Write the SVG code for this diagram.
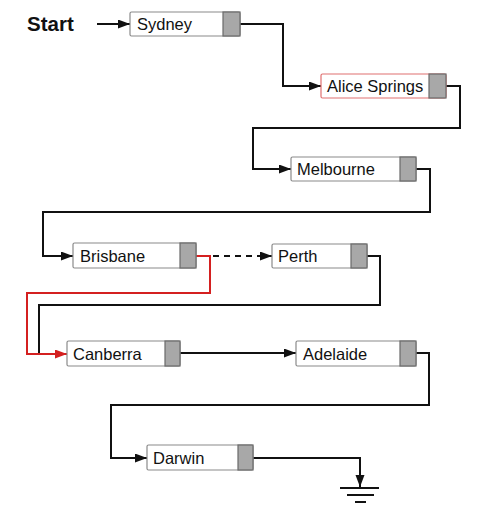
<svg xmlns="http://www.w3.org/2000/svg" width="493" height="526" viewBox="0 0 493 526">
<style>
.box{fill:#fff;stroke:#8a8a8a;stroke-width:1.2}
.red{stroke:#e07070}
.tab{fill:#a8a8a8;stroke:#6a6a6a;stroke-width:1.2}
.lbl{font-family:"Liberation Sans",Arial,sans-serif;font-size:16.5px;fill:#111}
.c{fill:none;stroke:#111;stroke-width:2}
.cr{fill:none;stroke:#d42020;stroke-width:2}
</style>
<defs>
<marker id="ah" markerUnits="userSpaceOnUse" markerWidth="13" markerHeight="10" refX="12" refY="4.5" orient="auto"><path d="M0,0 L12,4.5 L0,9 z" fill="#111"/></marker>
<marker id="ahr" markerUnits="userSpaceOnUse" markerWidth="13" markerHeight="10" refX="12" refY="4.5" orient="auto"><path d="M0,0 L12,4.5 L0,9 z" fill="#d42020"/></marker>
</defs>
<text x="27" y="31" font-family="Liberation Sans,Arial,sans-serif" font-size="20.5" font-weight="bold" fill="#111">Start</text>
<g id="connectors">
<path class="c" d="M97,24 H130" marker-end="url(#ah)"/>
<path class="c" d="M240,24 H283 V86 H321" marker-end="url(#ah)"/>
<path class="c" d="M446,86 H460 V128 H253 V169 H291" marker-end="url(#ah)"/>
<path class="c" d="M416,169 H430 V212 H43 V256 H73" marker-end="url(#ah)"/>
<path class="c" d="M213,256 H272" stroke-dasharray="6,5" marker-end="url(#ah)"/>
<path class="c" d="M367,256 H380 V305 H39 V354 H50"/>
<path class="cr" d="M196,256 H210 V293 H27 V354 H67" marker-end="url(#ahr)"/>
<path class="c" d="M180,353 H296" marker-end="url(#ah)"/>
<path class="c" d="M416,353 H429 V405 H111 V458 H147" marker-end="url(#ah)"/>
<path class="c" d="M253,458 H360 V487" marker-end="url(#ah)"/>
<g id="ground" stroke="#111" stroke-width="2">
<line x1="340" y1="488" x2="379" y2="488"/>
<line x1="347" y1="495" x2="374" y2="495"/>
<line x1="355" y1="502" x2="366" y2="502"/>
</g>
</g>
<g id="sydney"><rect class="box" x="130" y="12" width="110" height="24" rx="1.5"/><rect class="tab" x="223" y="12" width="17" height="24"/><text class="lbl" x="137" y="30">Sydney</text></g>
<g id="alice-springs"><rect class="box red" x="321" y="74" width="125" height="24" rx="1.5"/><rect class="tab" x="429" y="74" width="17" height="24"/><text class="lbl" x="327" y="92">Alice Springs</text></g>
<g id="melbourne"><rect class="box" x="291" y="157" width="125" height="24" rx="1.5"/><rect class="tab" x="400" y="157" width="16" height="24"/><text class="lbl" x="297" y="175">Melbourne</text></g>
<g id="brisbane"><rect class="box" x="73" y="243" width="123" height="25" rx="1.5"/><rect class="tab" x="180" y="243" width="16" height="25"/><text class="lbl" x="80" y="261.5">Brisbane</text></g>
<g id="perth"><rect class="box" x="272" y="244" width="95" height="24" rx="1.5"/><rect class="tab" x="351" y="244" width="16" height="24"/><text class="lbl" x="278" y="262">Perth</text></g>
<g id="canberra"><rect class="box" x="67" y="341" width="113" height="25" rx="1.5"/><rect class="tab" x="165" y="341" width="15" height="25"/><text class="lbl" x="73" y="359.5">Canberra</text></g>
<g id="adelaide"><rect class="box" x="296" y="341" width="120" height="25" rx="1.5"/><rect class="tab" x="400" y="341" width="16" height="25"/><text class="lbl" x="303" y="359.5">Adelaide</text></g>
<g id="darwin"><rect class="box" x="147" y="445" width="106" height="25" rx="1.5"/><rect class="tab" x="238" y="445" width="15" height="25"/><text class="lbl" x="153" y="463.5">Darwin</text></g>
</svg>
